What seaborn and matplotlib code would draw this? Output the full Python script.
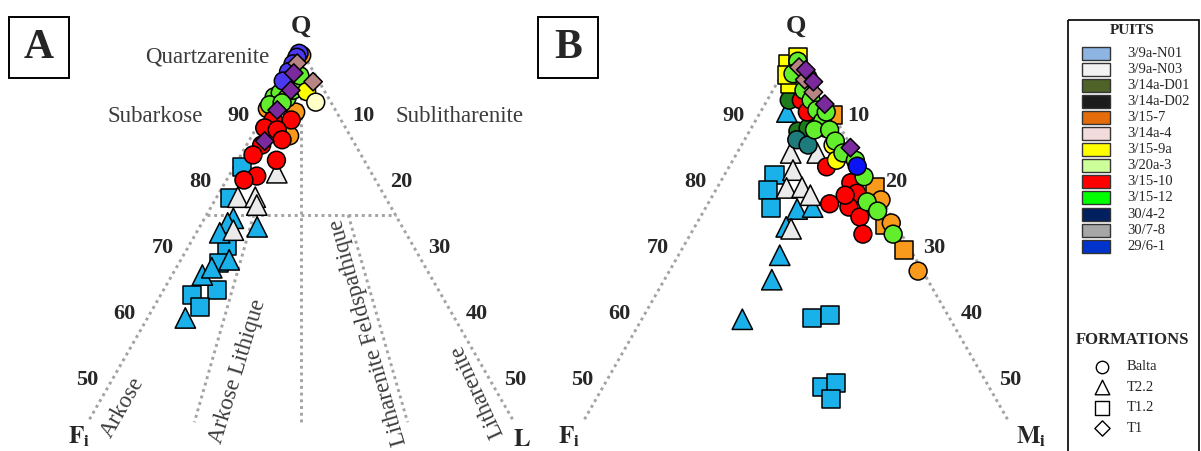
import matplotlib
matplotlib.use("Agg")
import matplotlib.pyplot as plt
from matplotlib.patches import Rectangle
import seaborn as sns
import pandas as pd

# Compositions in %: Q (quartz) and F (feldspar); third pole = 100 - Q - F
# (L in panel A, Mi in panel B)

# ---- panel A ----
a_n01_sq_q = [82.3, 77.6, 70.3, 67.7, 62.9, 63.6, 61.1]
a_n01_sq_f = [16.7, 20.6, 24.6, 27.0, 33.0, 29.3, 32.8]
a_n01_tr_q = [74.5, 73.8, 73.2, 72.3, 68.2, 65.9, 67.0, 59.4]
a_n01_tr_f = [21.7, 22.8, 19.2, 24.6, 25.4, 30.1, 28.3, 35.6]
a_n03_tr_q = [81.4, 77.7, 77.7, 76.5, 72.7]
a_n03_tr_f = [12.5, 19.5, 17.2, 17.6, 22.6]
a_157_q = [99.2, 91.1, 87.0, 90.6]
a_157_f = [0.3, 8.9, 8.0, 5.4]
a_1512_q = [92.9, 93.5, 92.7, 91.7, 93.9, 94.7, 92.0, 96.1]
a_1512_f = [7.1, 6.0, 5.5, 8.3, 4.1, 3.2, 6.5, 2.1]
a_1510_q = [89.4, 89.4, 88.2, 87.9, 86.4, 85.6, 84.1, 83.3, 80.9, 80.3]
a_1510_f = [9.0, 6.6, 10.7, 9.2, 9.3, 12.4, 14.3, 11.6, 15.4, 17.4]
a_304_q = [99.5, 98.9, 97.9, 96.7, 95.3]
a_304_f = [0.5, 1.1, 2.1, 3.3, 4.7]
a_159_q = [93.7]
a_159_f = [2.4]
a_203_q = [92.1]
a_203_f = [2.0]
a_144_q = [98.0, 95.2]
a_144_f = [1.5, 0.8]
a_708_q = [96.5, 93.9, 90.9, 86.2]
a_708_f = [2.7, 4.4, 7.7, 11.7]

# ---- panel B ----
b_n01_sq_q = [81.1, 78.8, 76.1, 59.4, 59.9, 48.9, 49.6, 47.1]
b_n01_sq_f = [12.3, 14.3, 15.2, 18.2, 15.6, 22.1, 19.9, 21.8]
b_n01_tr_q = [90.6, 75.9, 76.2, 73.2, 68.9, 65.2, 59.2]
b_n01_tr_f = [5.9, 11.9, 9.7, 14.7, 17.7, 20.6, 27.5]
b_n03_tr_q = [84.4, 84.4, 81.8, 79.1, 79.2, 78.0, 72.9]
b_n03_tr_f = [8.5, 5.0, 9.5, 11.7, 9.6, 9.1, 14.2]
b_d01_q = [92.4, 87.7, 88.2]
b_d01_f = [4.7, 5.9, 4.3]
b_d02_q = [86.4, 85.6]
b_d02_f = [6.7, 5.6]
b_1510_q = [92.4, 90.6, 82.3, 76.7, 79.9, 78.3, 76.2, 74.7, 72.1, 78.0]
b_1510_f = [3.1, 3.2, 4.8, 7.2, 2.8, 2.8, 4.9, 4.2, 5.1, 4.5]
b_159_sq_q = [97.9, 98.9, 94.9, 96.2]
b_159_sq_f = [2.1, 0.3, 3.4, 3.1]
b_159_ci_q = [88.2, 85.6, 83.3]
b_159_ci_f = [2.1, 2.3, 3.0]
b_157_sq_q = [79.2, 73.5, 69.7, 90.2]
b_157_sq_f = [0.0, 1.5, 0.9, 0.0]
b_157_ci_q = [77.3, 73.8, 66.5]
b_157_ci_f = [0.1, 0.5, 0.6]
b_1512_q = [98.3, 96.4, 93.9, 92.4, 90.9, 89.2, 87.9, 87.9, 86.2, 84.4, 83.3, 80.8,
            77.0, 75.6, 72.1, 90.6, 95.8]
b_1512_f = [0.6, 2.2, 2.0, 1.8, 1.8, 1.9, 3.6, 1.6, 1.7, 1.6, 0.5, 0.6,
            2.1, 1.4, 1.1, 0.7, 0.5]
b_291_q = [82.4]
b_291_f = [0.7]
b_144_q = [97.4, 95.5, 93.6]
b_144_f = [0.9, 1.1, 0.9]
b_708_q = [97.0, 95.2, 91.8, 85.2]
b_708_f = [0.2, 0.1, 0.3, 0.2]

wells = ["3/9a-N01", "3/9a-N03", "3/14a-D01", "3/14a-D02", "3/15-7", "3/14a-4",
         "3/15-9a", "3/20a-3", "3/15-10", "3/15-12", "30/4-2", "30/7-8", "29/6-1"]
legend_colors = ["#8DB4E2", "#F2F2F2", "#4F6228", "#1C1C1C", "#E46C0A", "#F2DCDB",
                 "#FFFF00", "#CCFF99", "#FF0000", "#00FF00", "#002060", "#A6A6A6", "#0033CC"]
plot_colors = {"3/9a-N01": "#1AB0EA", "3/9a-N03": "#EBEBEB", "3/14a-D01": "#1D7A1D",
               "3/14a-D02": "#1E7B7B", "3/15-7": "#FA9A1C", "3/14a-4": "#B88585",
               "3/15-9a": "#FFFF00", "3/20a-3": "#FFFFC8", "3/15-10": "#FF0000",
               "3/15-12": "#62EE2C", "30/4-2": "#4C38F0", "30/7-8": "#7A2A9C",
               "29/6-1": "#0A14F5"}
formations = ["Balta", "T2.2", "T1.2", "T1"]
form_markers = {"Balta": "o", "T2.2": "^", "T1.2": "s", "T1": "D"}
form_sizes = {"Balta": 165, "T2.2": 215, "T1.2": 170, "T1": 88}
ticks = [90, 80, 70, 60, 50]

# draw order (first = bottom)
groups_a = [
    ("3/9a-N01", "T1.2", a_n01_sq_q, a_n01_sq_f),
    ("3/9a-N01", "T2.2", a_n01_tr_q, a_n01_tr_f),
    ("3/9a-N03", "T2.2", a_n03_tr_q, a_n03_tr_f),
    ("3/15-7", "Balta", a_157_q, a_157_f),
    ("3/15-12", "Balta", a_1512_q, a_1512_f),
    ("3/15-10", "Balta", a_1510_q, a_1510_f),
    ("30/4-2", "Balta", a_304_q, a_304_f),
    ("3/15-9a", "Balta", a_159_q, a_159_f),
    ("3/20a-3", "Balta", a_203_q, a_203_f),
    ("3/14a-4", "T1", a_144_q, a_144_f),
    ("30/7-8", "T1", a_708_q, a_708_f),
]
groups_b = [
    ("3/9a-N01", "T1.2", b_n01_sq_q, b_n01_sq_f),
    ("3/9a-N01", "T2.2", b_n01_tr_q, b_n01_tr_f),
    ("3/9a-N03", "T2.2", b_n03_tr_q, b_n03_tr_f),
    ("3/14a-D01", "Balta", b_d01_q, b_d01_f),
    ("3/14a-D02", "Balta", b_d02_q, b_d02_f),
    ("3/15-10", "Balta", b_1510_q, b_1510_f),
    ("3/15-9a", "T1.2", b_159_sq_q, b_159_sq_f),
    ("3/15-7", "T1.2", b_157_sq_q, b_157_sq_f),
    ("3/15-7", "Balta", b_157_ci_q, b_157_ci_f),
    ("3/15-9a", "Balta", b_159_ci_q, b_159_ci_f),
    ("3/15-12", "Balta", b_1512_q, b_1512_f),
    ("29/6-1", "Balta", b_291_q, b_291_f),
    ("3/14a-4", "T1", b_144_q, b_144_f),
    ("30/7-8", "T1", b_708_q, b_708_f),
]


def to_frame(groups):
    rows = []
    for well, form, qs, fs in groups:
        for q, f in zip(qs, fs):
            rows.append({"well": well, "formation": form, "Q": q, "F": f})
    df = pd.DataFrame(rows)
    # horizontal ternary coordinate: third pole minus F
    df["u"] = (100 - df["Q"] - df["F"]) - df["F"]
    return df


sns.set_theme(style="white")
plt.rcParams["font.family"] = ["Liberation Serif", "DejaVu Serif"]
plt.rcParams["mathtext.fontset"] = "stix"

W, H = 1201, 451
SX, SY = 3.78, 6.6   # pixels per % (horizontal u, vertical Q)
TOP = 50             # pixel row of the Q apex
fig = plt.figure(figsize=(W / 100, H / 100), dpi=100)


def tern_axes(px0, px1, cx):
    ax = fig.add_axes([px0 / W, 0, (px1 - px0) / W, 1])
    ax.set_xlim((px0 - cx) / SX, (px1 - cx) / SX)
    ax.set_ylim(100 - (H - TOP) / SY, 100 + TOP / SY)
    ax.axis("off")
    return ax


dot = dict(color="#A3A3A3", lw=2.1, ls=(0, (1, 1.3)), zorder=1)
qbot = 43.6


def frame(ax):
    ax.plot([0, -(100 - qbot)], [100, qbot], **dot)
    ax.plot([0, 100 - qbot], [100, qbot], **dot)
    off = 25 / SX
    for t in ticks:
        ax.text(-(100 - t) - off, t, str(t), ha="center", va="center",
                fontsize=16, fontweight="bold", zorder=4)
        ax.text((100 - t) + off, t, str(100 - t), ha="center", va="center",
                fontsize=16, fontweight="bold", zorder=4)
    ax.text(0, 100 + 24 / SY, "Q", ha="center", va="center", fontsize=19,
            fontweight="bold")


def draw_points(ax, df):
    sns.scatterplot(data=df, x="u", y="Q", hue="well", style="formation",
                    size="formation", palette=plot_colors, markers=form_markers,
                    sizes=form_sizes, edgecolor="black", linewidth=1.1,
                    legend=False, ax=ax, zorder=3)
    ax.set_xlabel("")
    ax.set_ylabel("")


# ---------------- panel A : Folk classification ----------------
axA = tern_axes(0, 545, 301)
frame(axA)
axA.plot([-25, 25], [75, 75], **dot)
axA.plot([0, 0], [100, qbot], **dot)
axA.plot([-12.5, -(100 - qbot) / 2], [75, qbot], **dot)
axA.plot([12.5, (100 - qbot) / 2], [75, qbot], **dot)
draw_points(axA, to_frame(groups_a))

cls = dict(color="#3C3C3C", fontsize=16.5, ha="center", va="center",
           rotation_mode="anchor", zorder=4)
axA.text(-24.9, 98.9, "Quartzarenite", **cls)
axA.text(-38.6, 89.85, "Subarkose", **cls)
axA.text(41.8, 89.85, "Sublitharenite", **cls)
axA.text(-47.1, 45.8, "Arkose", rotation=60, **cls)
axA.text(-16.8, 51.3, "Arkose Lithique", rotation=73, **cls)
axA.text(18.0, 57.3, "Litharenite Feldspathique", rotation=106, **cls)
axA.text(46.7, 48.3, "Litharenite", rotation=115, **cls)

# ---------------- panel B ----------------
axB = tern_axes(545, 1062, 796)
frame(axB)
draw_points(axB, to_frame(groups_b))

# ---------------- overlay in pixel units: boxes, pole letters, legend ----------------
ov = fig.add_axes([0, 0, 1, 1])
ov.set_xlim(0, W)
ov.set_ylim(H, 0)
ov.axis("off")

for x0, lab in [(8.6, "A"), (538.4, "B")]:
    ov.add_patch(Rectangle((x0, 17), 60, 61, fill=False, ec="black", lw=1.4))
    ov.text(x0 + 30, 48, lab, ha="center", va="center", fontsize=30, fontweight="bold")

pole = dict(ha="center", va="baseline", fontsize=18)
ov.text(79, 444, r"$\mathbf{F}_{\mathbf{i}}$", **pole)
ov.text(522, 446, r"$\mathbf{L}$", **pole)
ov.text(569, 444, r"$\mathbf{F}_{\mathbf{i}}$", **pole)
ov.text(1031, 444, r"$\mathbf{M}_{\mathbf{i}}$", **pole)

# legend box
ov.add_patch(Rectangle((1068, 20), 131, 445, fill=False, ec="black", lw=1.2))
ov.text(1132, 30, "PUITS", ha="center", va="center", fontsize=11, fontweight="bold")
for i, (w, c) in enumerate(zip(wells, legend_colors)):
    y = 53.5 + i * 16.05
    ov.add_patch(Rectangle((1082, y - 6.5), 28, 13, fc=c, ec="#333333", lw=1.0))
    ov.text(1127, y, w, ha="left", va="center", fontsize=10.5)
ov.text(1133, 340, "FORMATIONS", ha="center", va="center", fontsize=12,
        fontweight="bold")
for i, fm in enumerate(formations):
    y = 367 + i * 20.4
    ov.scatter([1102], [y], marker=form_markers[fm], s=[80, 110, 95, 60][i],
               facecolor="white", edgecolor="black", linewidth=1.0)
    ov.text(1127, y, fm, ha="left", va="center", fontsize=10.5)

fig.savefig("out.png", dpi=100)
